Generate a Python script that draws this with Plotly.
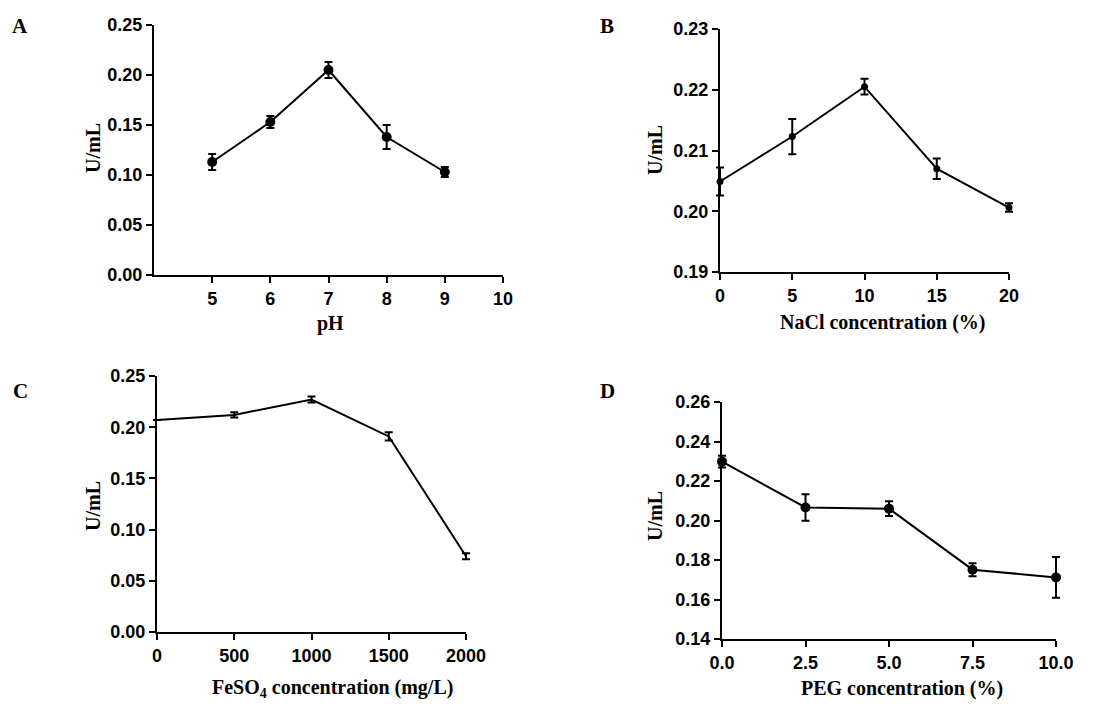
import plotly.graph_objects as go

# A - pH
ph = [5, 6, 7, 8, 9]
ph_act = [0.113, 0.153, 0.205, 0.138, 0.103]
ph_err = [0.008, 0.006, 0.008, 0.012, 0.005]

# B - NaCl
nacl = [0, 5, 10, 15, 20]
nacl_act = [0.2049, 0.2123, 0.2205, 0.2070, 0.2006]
nacl_err = [0.0023, 0.0029, 0.0013, 0.0017, 0.0007]

# C - FeSO4
feso4 = [0, 500, 1000, 1500, 2000]
feso4_act = [0.207, 0.212, 0.227, 0.191, 0.074]
feso4_err = [0.0, 0.0025, 0.003, 0.004, 0.003]

# D - PEG
peg = [0, 2.5, 5, 7.5, 10]
peg_act = [0.2298, 0.2066, 0.2060, 0.1751, 0.1712]
peg_err = [0.003, 0.0067, 0.0037, 0.0033, 0.0103]

W, H = 1119, 713
OFF = 8   # page body margin seen in the screenshot
PAD = 8   # extra px so edge error bars are not clipped


def fx(px):
    return (px - OFF) / W


def fy(py):
    return 1 - (py - OFF) / H


tickfont = dict(family="Liberation Sans", size=18, color="black", weight="bold")
axis_style = dict(showline=True, linewidth=2, linecolor="black", ticks="outside",
                  tickwidth=2, ticklen=6, tickcolor="black", showgrid=False,
                  zeroline=False, mirror=False, tickfont=tickfont, automargin=False)

# (x, y, err, marker size, px box left/right/top/bottom, xrange, yrange, x ticks, y dtick)
panels = [
    (ph, ph_act, ph_err, 10, (154, 503, 25, 275), [4, 10], [0, 0.25],
     dict(tickvals=[5, 6, 7, 8, 9, 10]), 0.05),
    (nacl, nacl_act, nacl_err, 7, (720, 1009, 29, 272), [0, 20], [0.19, 0.23],
     dict(dtick=5), 0.01),
    (feso4, feso4_act, feso4_err, 0, (157, 466, 376, 632), [0, 2000], [0, 0.25],
     dict(dtick=500), 0.05),
    (peg, peg_act, peg_err, 10, (722, 1056, 402, 639), [0, 10], [0.14, 0.26],
     dict(dtick=2.5, tickformat=".1f"), 0.02),
]

fig = go.Figure()
layout = {}
for i, (x, y, e, msize, box, xr, yr, xt, ydt) in enumerate(panels):
    l, r, t, b = box
    n = 2 * i + 1  # visible axes
    m = 2 * i + 2  # hidden, slightly larger axes that carry the data
    sx = (xr[1] - xr[0]) / (r - l)
    sy = (yr[1] - yr[0]) / (b - t)
    layout["xaxis%d" % n] = dict(axis_style, domain=[fx(l), fx(r)], range=xr,
                                 anchor="y%d" % n, **xt)
    layout["yaxis%d" % n] = dict(axis_style, domain=[fy(b), fy(t)], range=yr,
                                 anchor="x%d" % n, dtick=ydt, tickformat=".2f")
    layout["xaxis%d" % m] = dict(domain=[fx(l - PAD), fx(r + PAD)],
                                 range=[xr[0] - PAD * sx, xr[1] + PAD * sx],
                                 anchor="y%d" % m, visible=False, automargin=False)
    layout["yaxis%d" % m] = dict(domain=[fy(b + PAD), fy(t - PAD)],
                                 range=[yr[0] - PAD * sy, yr[1] + PAD * sy],
                                 anchor="x%d" % m, visible=False, automargin=False)
    fig.add_trace(go.Scatter(x=[], y=[], xaxis="x%d" % n, yaxis="y%d" % n,
                             showlegend=False, hoverinfo="skip"))
    fig.add_trace(go.Scatter(
        x=x, y=y, xaxis="x%d" % m, yaxis="y%d" % m,
        mode="lines+markers" if msize else "lines",
        line=dict(color="black", width=2),
        marker=dict(color="black", size=msize, symbol="circle"),
        error_y=dict(type="data", array=e, visible=True, color="black",
                     thickness=2, width=4),
        cliponaxis=False,
        showlegend=False,
    ))

fig.update_layout(**layout)

serif = dict(family="Liberation Serif", size=20, color="black", weight="bold")


def note(text, x, y, angle=0, size=20):
    f = dict(serif)
    f["size"] = size
    fig.add_annotation(text=text, x=fx(x), y=fy(y), xref="paper", yref="paper",
                       showarrow=False, textangle=angle, font=f,
                       xanchor="center", yanchor="middle")


# panel letters
note("A", 20, 26, size=21)
note("B", 607, 26, size=21)
note("C", 20, 391, size=21)
note("D", 607, 391, size=21)

# y titles
note("U/mL", 93, 148, angle=-90)
note("U/mL", 655, 150, angle=-90)
note("U/mL", 93, 506, angle=-90)
note("U/mL", 655, 516, angle=-90)

# x titles
note("pH", 330, 323)
note("NaCl concentration (%)", 883, 322)
note("FeSO<sub>4</sub> concentration (mg/L)", 332, 688)
note("PEG concentration (%)", 902, 688)

fig.update_layout(width=W, height=H,
                  margin=dict(l=0, r=0, t=0, b=0, pad=0, autoexpand=False),
                  showlegend=False,
                  plot_bgcolor="rgba(0,0,0,0)", paper_bgcolor="white")

fig.write_html("out.html")
